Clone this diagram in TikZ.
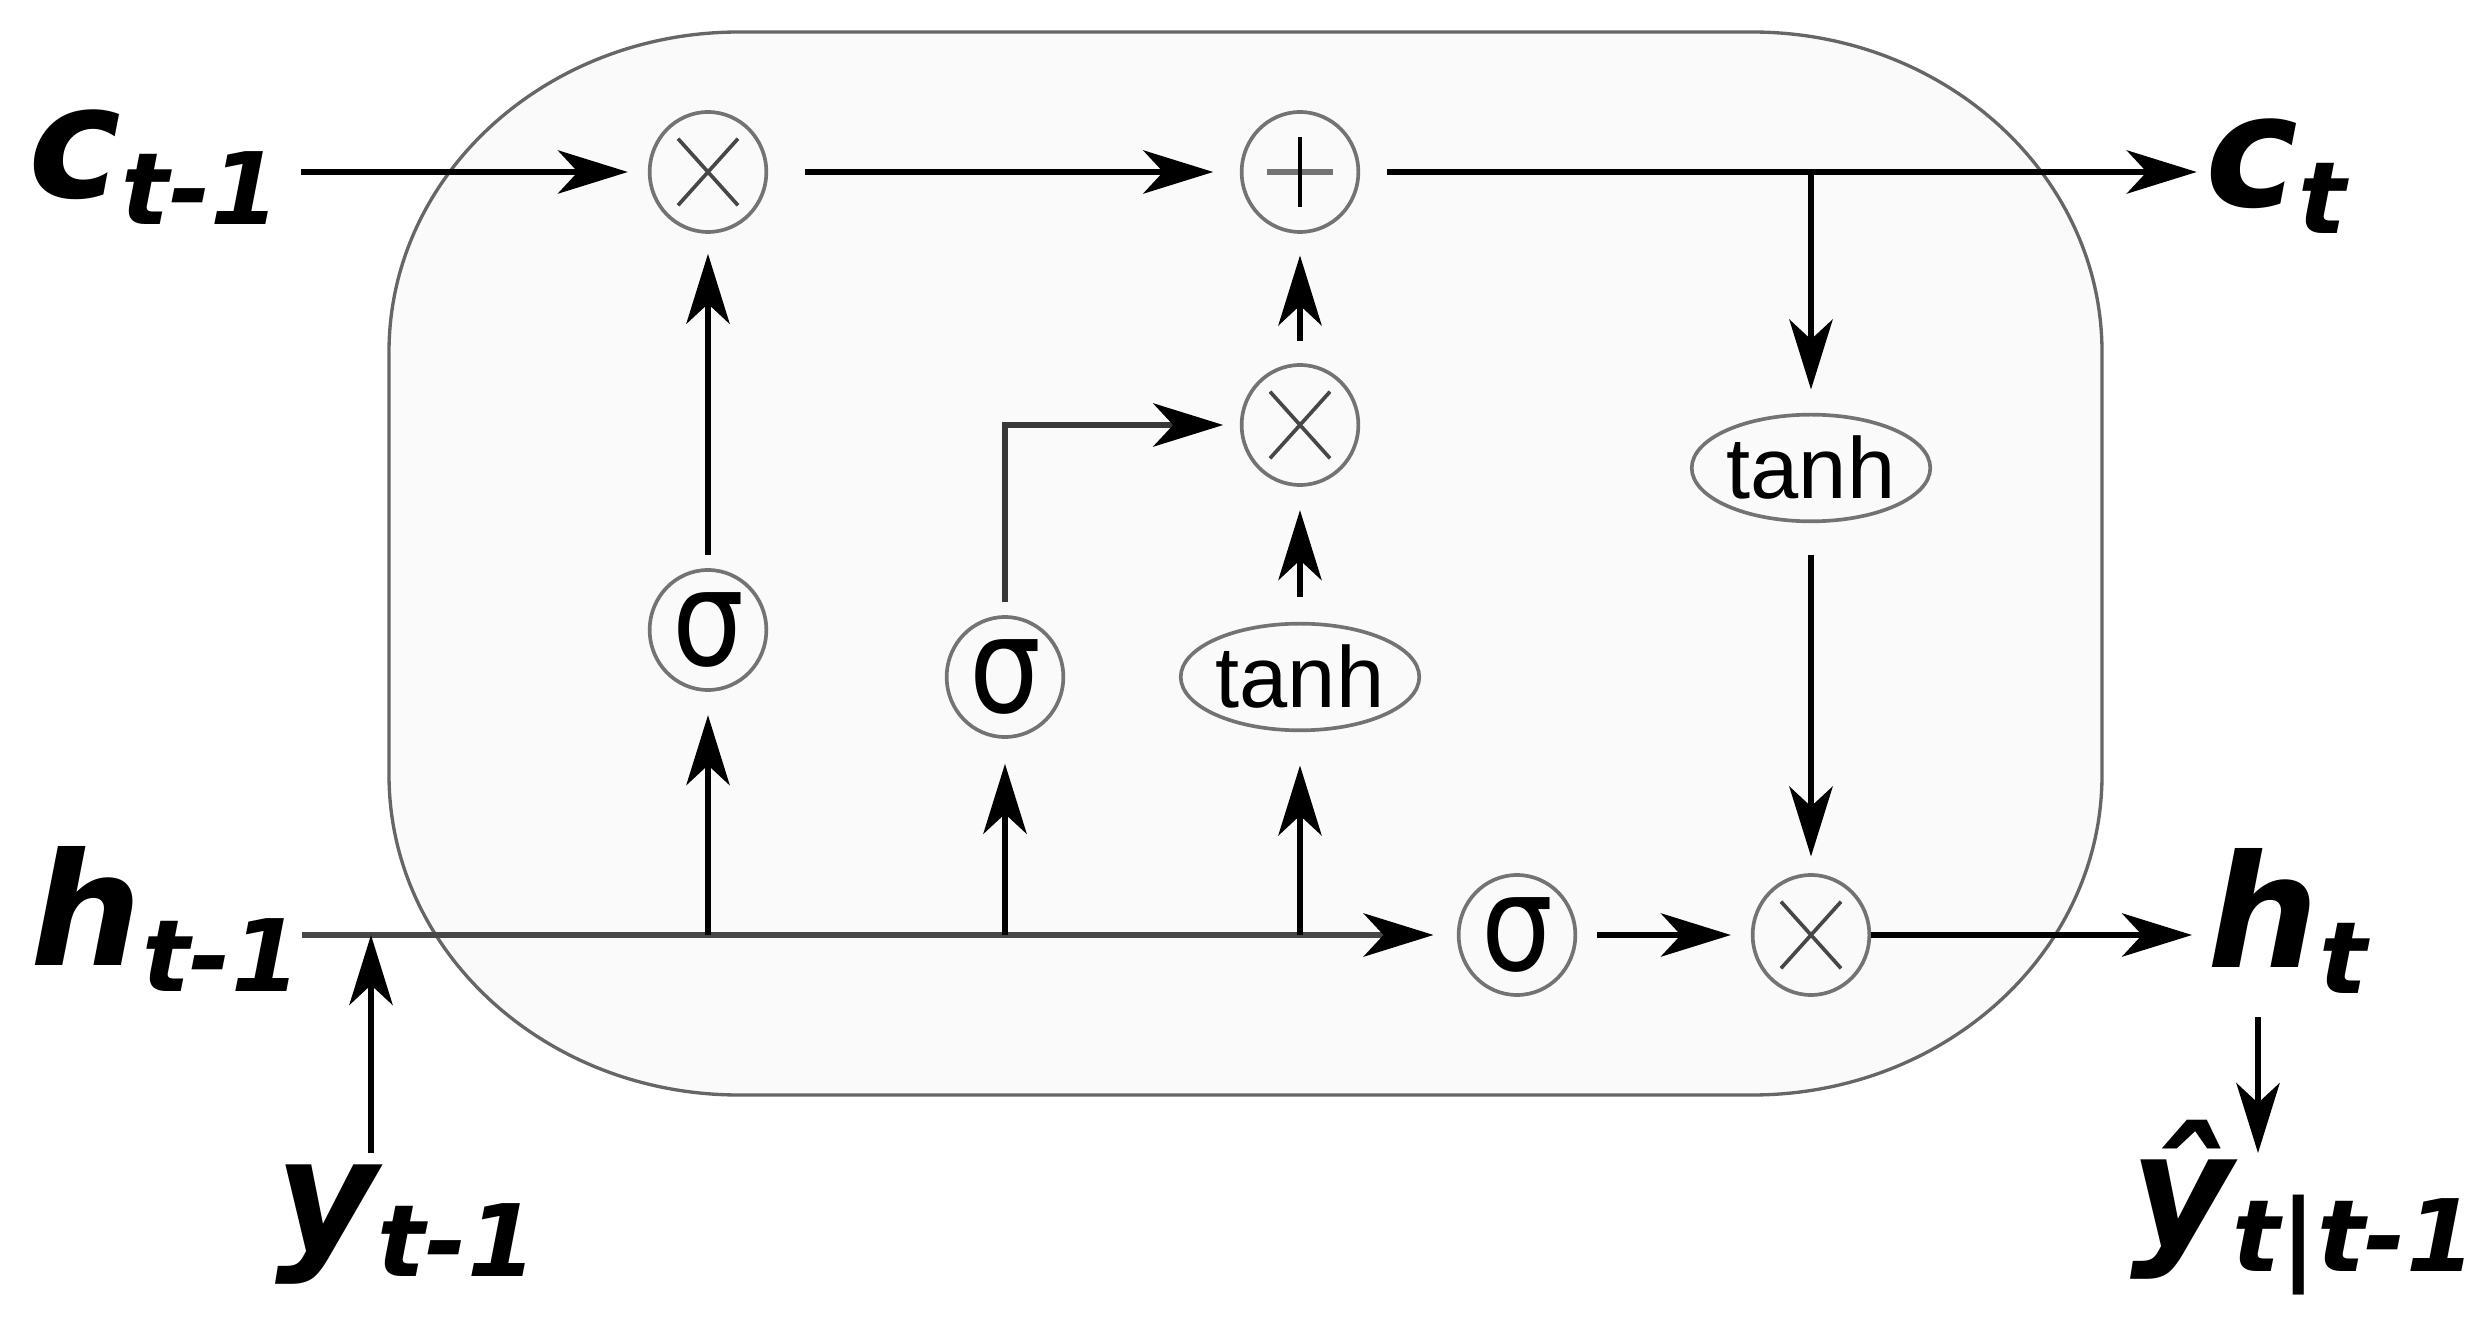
\documentclass[tikz,border=0pt]{standalone}
\usepackage{fontspec}
\usepackage{graphicx}
\setmainfont{DejaVu Sans}
\newfontfamily\labfont{DejaVu Sans Bold Oblique}
\newfontfamily\labupfont{DejaVu Sans Bold}
\newfontfamily\tanhfont{Liberation Sans}
\usetikzlibrary{arrows.meta,shapes.geometric}
\newcommand\mylab[2]{{\labfont\fontsize{47}{50}\selectfont #1}\raisebox{-8pt}{\labfont\fontsize{30}{32}\selectfont #2}}
\tikzset{
  conn/.style={line width=1.6pt, draw=black},
  arr/.style={conn, -{Stealth[length=21pt,width=13pt,inset=6pt,color=black]}},
  hconn/.style={arr, draw=black!72},
  cellbox/.style={draw=black!60, line width=1pt, fill=black!2},
  opnode/.style={ellipse, draw=black!55, line width=1.1pt, minimum width=35pt, minimum height=36pt, inner sep=0pt},
  xline/.style={draw=black!72, line width=1.1pt},
  xmark/.style={opnode, path picture={
     \draw[xline] ([shift={(-9pt,-10pt)}]path picture bounding box.center) -- ([shift={(9pt,10pt)}]path picture bounding box.center)
                  ([shift={(-9pt,10pt)}]path picture bounding box.center) -- ([shift={(9pt,-10pt)}]path picture bounding box.center);}},
  pmark/.style={opnode, path picture={
     \draw[draw=black!55, line width=2pt] ([xshift=-10pt]path picture bounding box.center) -- ([xshift=10pt]path picture bounding box.center);
     \draw[draw=black, line width=1.1pt] ([yshift=-10.5pt]path picture bounding box.center) -- ([yshift=10.5pt]path picture bounding box.center);}},
  signode/.style={opnode, font=\fontsize{40}{40}\selectfont},
  tanhnode/.style={ellipse, draw=black!55, line width=1.1pt, minimum width=63pt, minimum height=32pt, inner sep=0pt, font={\tanhfont\fontsize{26}{26}\selectfont}},
  lbl/.style={inner sep=0pt, anchor=base west}
}
\begin{document}
\begin{tikzpicture}[x=0.3pt,y=-0.3pt]
\useasboundingbox (0,0) rectangle (2488,1321);
% cell box
\path[cellbox] (739,32) -- (1752,32)
  arc[start angle=90, end angle=0, x radius=105pt, y radius=96pt] -- (2102,775)
  arc[start angle=0, end angle=-90, x radius=105pt, y radius=96pt] -- (739,1095)
  arc[start angle=270, end angle=180, x radius=105pt, y radius=96pt] -- (389,352)
  arc[start angle=180, end angle=90, x radius=105pt, y radius=96pt] -- cycle;
% operation nodes
\node[xmark] (x1) at (708,172) {};
\node[pmark] (pl) at (1300,172) {};
\node[xmark] (x2) at (1300,425) {};
\node[tanhnode] (t1) at (1811,468) {tanh};
\node[signode] (s1) at (708,630) {\scalebox{0.85}[1]{σ}};
\node[signode] (s2) at (1005,677) {\scalebox{0.85}[1]{σ}};
\node[tanhnode] (t2) at (1300,677) {tanh};
\node[signode] (s3) at (1517,935) {\scalebox{0.85}[1]{σ}};
\node[xmark] (x3) at (1811,935) {};
% labels
\node[lbl] (cprev) at (28,198) {\mylab{c}{t-1}};
\node[lbl] (hprev) at (30,965) {\mylab{h}{t-1}};
\node[lbl] (yprev) at (275,1250) {\mylab{y}{t-1}};
\node[lbl] (cnext) at (2205,207) {\mylab{c}{t}};
\node[lbl] (hnext) at (2207,967) {\mylab{h}{t}};
\node[lbl] (yhat) at (2130,1245) {\mylab{ŷ}{t{\labupfont|}t-1}};
\coordinate (yin) at (371,1153);
\coordinate (yout) at (2258,1017);
\coordinate (yend) at (2258,1153);
% cell state line
\draw[arr, shorten <=6pt, shorten >=6pt] (cprev.east |- x1) -- (x1);
\draw[arr, shorten <=11pt, shorten >=8pt] (x1) -- (pl);
\draw[arr, shorten <=8pt, shorten >=2.5pt] (pl) -- (cnext.west |- pl);
\draw[arr, shorten >=7pt] (t1 |- pl) -- (t1);
\draw[arr, shorten <=9.6pt, shorten >=5pt] (t1) -- (x3);
% gates
\draw[arr, shorten <=4pt, shorten >=6pt] (s1) -- (x1);
\draw[arr, shorten <=6.5pt, shorten >=6.5pt] (x2) -- (pl);
\draw[arr, shorten <=7.5pt, shorten >=7pt] (t2) -- (x2);
\draw[arr, draw=black!78, shorten <=4pt, shorten >=5pt] (s2) |- (x2);
% hidden state line
\draw[hconn, shorten >=7pt] (hprev.east |- s3) -- (s3);
\draw[arr, shorten >=7pt] (s1 |- s3) -- (s1);
\draw[arr, shorten >=7.5pt] (s2 |- s3) -- (s2);
\draw[arr, shorten >=10pt] (t2 |- s3) -- (t2);
\draw[arr, shorten <=6pt, shorten >=6pt] (s3) -- (x3);
\draw[arr, shorten >=4.5pt] (x3) -- (hnext.west |- x3);
\draw[arr] (yin) -- (yin |- s3);
\draw[arr] (yout) -- (yend);
\end{tikzpicture}
\end{document}
